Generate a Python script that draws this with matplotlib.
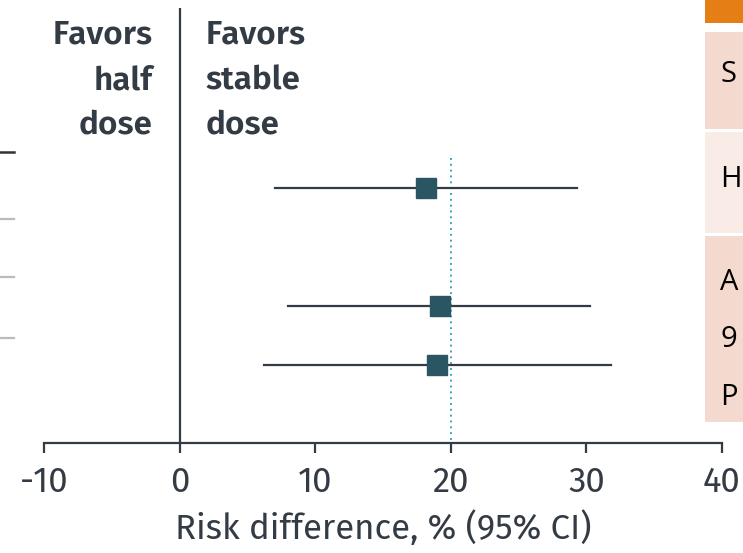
import matplotlib
matplotlib.use("Agg")
import matplotlib.pyplot as plt
from matplotlib.patches import Rectangle
from matplotlib.lines import Line2D

# Forest plot: risk difference (stable dose vs half dose), % with 95% CI
row_pos = [0, 2, 3]          # row 1 is a subgroup header without an estimate
estimates = [18.2, 19.2, 19.0]
ci_low = [7.0, 8.0, 6.2]
ci_high = [29.3, 30.3, 31.8]
overall_ref = 20.0
xticks = [-10, 0, 10, 20, 30, 40]
xlabel = "Risk difference, % (95% CI)"
left_note = ["Favors", "half", "dose"]
right_note = ["Favors", "stable", "dose"]
side_labels = ["S", "H", "A", "9", "P"]

W, H = 743, 553
fig = plt.figure(figsize=(W / 100, H / 100), dpi=100)

def fx(px):
    return px / W

def fy(py):
    return 1 - py / H

ax_left, ax_right, ax_top, ax_bot = 44, 722, 8, 443
ax = fig.add_axes([fx(ax_left), fy(ax_bot), fx(ax_right - ax_left), (ax_bot - ax_top) / H])

sans = ["Fira Sans", "DejaVu Sans"]
ink = "#333b45"

ax.set_xlim(-10, 40)
row_px = 59.0
ax.set_ylim((ax_bot - 188) / row_px, -(188 - ax_top) / row_px)

for s in ["top", "right", "left"]:
    ax.spines[s].set_visible(False)
ax.spines["bottom"].set_linewidth(1.6)
ax.spines["bottom"].set_color(ink)
ax.set_yticks([])
ax.set_xticks(xticks)
ax.set_xticklabels([str(t) for t in xticks], fontsize=25, color=ink,
                   fontfamily=sans)
ax.tick_params(axis="x", length=7, width=1.6, color=ink, pad=9)
ax.set_xlabel(xlabel, fontsize=25, color=ink, fontfamily=sans, labelpad=8)

# null line
ax.axvline(0, color=ink, lw=1.6, zorder=1)
# pooled reference line
ax.plot([overall_ref, overall_ref], [-(188 - 158) / row_px, ax.get_ylim()[0]],
        ls=(0, (1, 2)), color="#3aa7c0", lw=1.4, zorder=1)

for y, est, lo, hi in zip(row_pos, estimates, ci_low, ci_high):
    ax.plot([lo, hi], [y, y], color=ink, lw=1.6, zorder=2)
    ax.plot([est], [y], marker="s", ms=14.5, color="#2a5563",
            mec="#2a5563", zorder=3)

note_baselines = [43, 89, 134]
for word, yb in zip(left_note, note_baselines):
    fig.text(fx(153), fy(yb), word, ha="right", va="baseline", fontsize=24,
             fontweight="semibold", color=ink, fontfamily=sans)
for word, yb in zip(right_note, note_baselines):
    fig.text(fx(206), fy(yb), word, ha="left", va="baseline", fontsize=24,
             fontweight="semibold", color=ink, fontfamily=sans)

# row separators of the adjoining table on the left
fig.add_artist(Line2D([0, fx(14)], [fy(152), fy(152)], color="#333333", lw=1.8))
for py in [219, 277, 338]:
    fig.add_artist(Line2D([0, fx(14)], [fy(py), fy(py)], color="#bbbbbb", lw=1.6))

# summary panel on the right
panel_x = 705
fig.add_artist(Rectangle((fx(panel_x), fy(23)), fx(W - panel_x), 23 / H,
                         color="#e57e14", lw=0))
boxes = [(32, 129, "#f4d9ce"), (132, 233, "#f9ebe6"), (236, 422, "#f4d9ce")]
for (t, b, c) in boxes:
    fig.add_artist(Rectangle((fx(panel_x), fy(b)), fx(W - panel_x), (b - t) / H,
                             color=c, lw=0))
side_font = ["Open Sans", "DejaVu Sans"]
side_baselines = [82, 187, 290, 347, 405]
for lab, yb in zip(side_labels, side_baselines):
    fig.text(fx(720), fy(yb), lab, ha="left", va="baseline", fontsize=21,
             color="black", fontfamily=side_font)

fig.savefig("out.png", dpi=100)
